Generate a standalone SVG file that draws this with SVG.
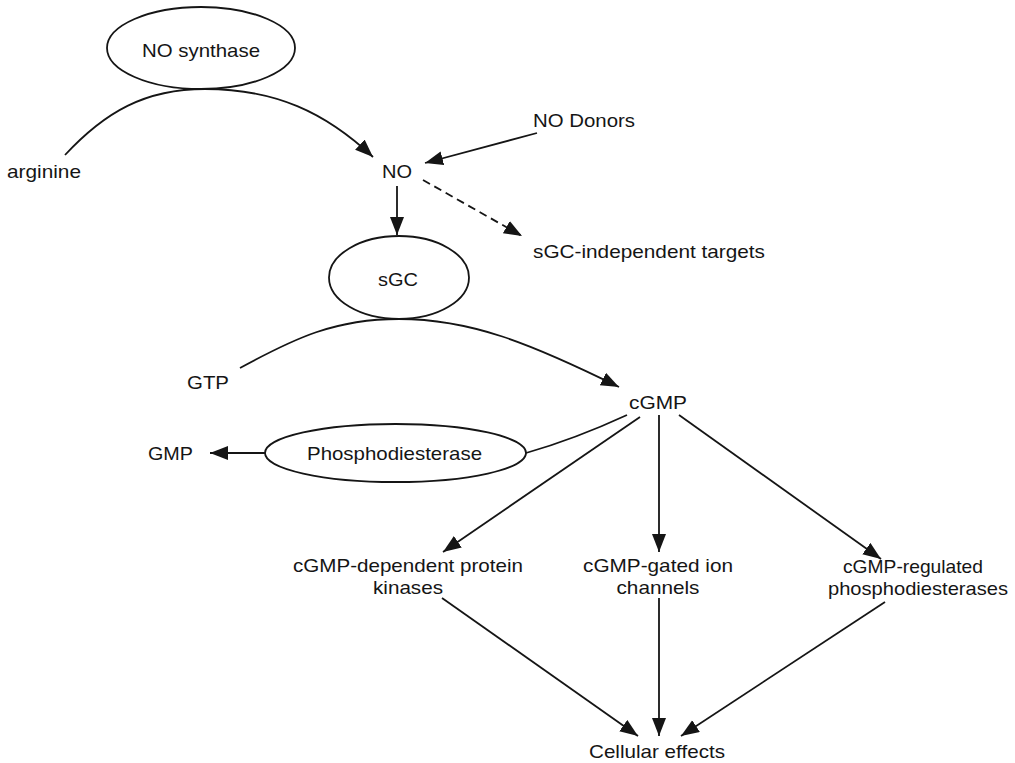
<svg xmlns="http://www.w3.org/2000/svg" width="1015" height="763" viewBox="0 0 1015 763">
  <style>
    .lbl { font-family: "Liberation Sans", Arial, Helvetica, sans-serif; font-size: 18.5px; fill: #151515; text-anchor: middle; }
    .node ellipse { fill: none; stroke: #151515; stroke-width: 1.8; }
    .edge { fill: none; stroke: #151515; stroke-width: 1.8; }
    .dash { stroke-dasharray: 8 5; }
  </style>
  <defs>
    <marker id="arrow" markerUnits="userSpaceOnUse" markerWidth="20" markerHeight="16" refX="18" refY="7" orient="auto">
      <path d="M0,0 L18,7 L0,14 Z" fill="#151515" stroke="none"/>
    </marker>
  </defs>
  <rect width="1015" height="763" fill="#ffffff"/>

  <!-- connectors -->
  <g id="connectors">
    <path class="edge" d="M65,155 C105,112 145,89 205,89 C275,89 325,112 373,157" marker-end="url(#arrow)"/>
    <path class="edge" d="M537,133 L425,163" marker-end="url(#arrow)"/>
    <path class="edge dash" d="M423,180 L522,236" marker-end="url(#arrow)"/>
    <path class="edge" d="M397,186 L397,235" marker-end="url(#arrow)"/>
    <path class="edge" d="M240,368 C295,338 335,319 399,319 C470,319 530,343 619,387" marker-end="url(#arrow)"/>
    <path class="edge" d="M627,415 Q575,439 526,453"/>
    <path class="edge" d="M265,453 L210,453" marker-end="url(#arrow)"/>
    <path class="edge" d="M640,417 L443,552" marker-end="url(#arrow)"/>
    <path class="edge" d="M659,415 L659,552" marker-end="url(#arrow)"/>
    <path class="edge" d="M679,415 L881,559" marker-end="url(#arrow)"/>
    <path class="edge" d="M442,598 L638,736" marker-end="url(#arrow)"/>
    <path class="edge" d="M659,598 L659,736" marker-end="url(#arrow)"/>
    <path class="edge" d="M885,602 L681,736" marker-end="url(#arrow)"/>
  </g>

  <!-- enzyme nodes -->
  <g id="no-synthase" class="node">
    <ellipse cx="201" cy="48" rx="94" ry="41"/>
    <text class="lbl" x="201" y="57" textLength="118" lengthAdjust="spacingAndGlyphs">NO synthase</text>
  </g>
  <g id="sgc" class="node">
    <ellipse cx="399" cy="277.5" rx="70" ry="41.5"/>
    <text class="lbl" x="398" y="286" textLength="40" lengthAdjust="spacingAndGlyphs">sGC</text>
  </g>
  <g id="phosphodiesterase" class="node">
    <ellipse cx="395.5" cy="453" rx="130.5" ry="29"/>
    <text class="lbl" x="394.5" y="460" textLength="175" lengthAdjust="spacingAndGlyphs">Phosphodiesterase</text>
  </g>

  <!-- text nodes -->
  <g id="arginine">
    <text class="lbl" x="44" y="178" textLength="74" lengthAdjust="spacingAndGlyphs">arginine</text>
  </g>
  <g id="no">
    <text class="lbl" x="397" y="178" textLength="30" lengthAdjust="spacingAndGlyphs">NO</text>
  </g>
  <g id="no-donors">
    <text class="lbl" x="584" y="127" textLength="102" lengthAdjust="spacingAndGlyphs">NO Donors</text>
  </g>
  <g id="sgc-independent">
    <text class="lbl" x="649" y="258" textLength="232" lengthAdjust="spacingAndGlyphs">sGC-independent targets</text>
  </g>
  <g id="gtp">
    <text class="lbl" x="208" y="389" textLength="42" lengthAdjust="spacingAndGlyphs">GTP</text>
  </g>
  <g id="cgmp">
    <text class="lbl" x="658" y="409" textLength="58" lengthAdjust="spacingAndGlyphs">cGMP</text>
  </g>
  <g id="gmp">
    <text class="lbl" x="170.5" y="460" textLength="45" lengthAdjust="spacingAndGlyphs">GMP</text>
  </g>
  <g id="protein-kinases">
    <text class="lbl" x="408" y="572" textLength="230" lengthAdjust="spacingAndGlyphs">cGMP-dependent protein</text>
    <text class="lbl" x="408" y="594" textLength="70" lengthAdjust="spacingAndGlyphs">kinases</text>
  </g>
  <g id="ion-channels">
    <text class="lbl" x="658" y="572" textLength="150" lengthAdjust="spacingAndGlyphs">cGMP-gated ion</text>
    <text class="lbl" x="658" y="594" textLength="83" lengthAdjust="spacingAndGlyphs">channels</text>
  </g>
  <g id="regulated-pde">
    <text class="lbl" x="913" y="573" textLength="140" lengthAdjust="spacingAndGlyphs">cGMP-regulated</text>
    <text class="lbl" x="918" y="595" textLength="180" lengthAdjust="spacingAndGlyphs">phosphodiesterases</text>
  </g>
  <g id="cellular-effects">
    <text class="lbl" x="657" y="758" textLength="136" lengthAdjust="spacingAndGlyphs">Cellular effects</text>
  </g>
</svg>
